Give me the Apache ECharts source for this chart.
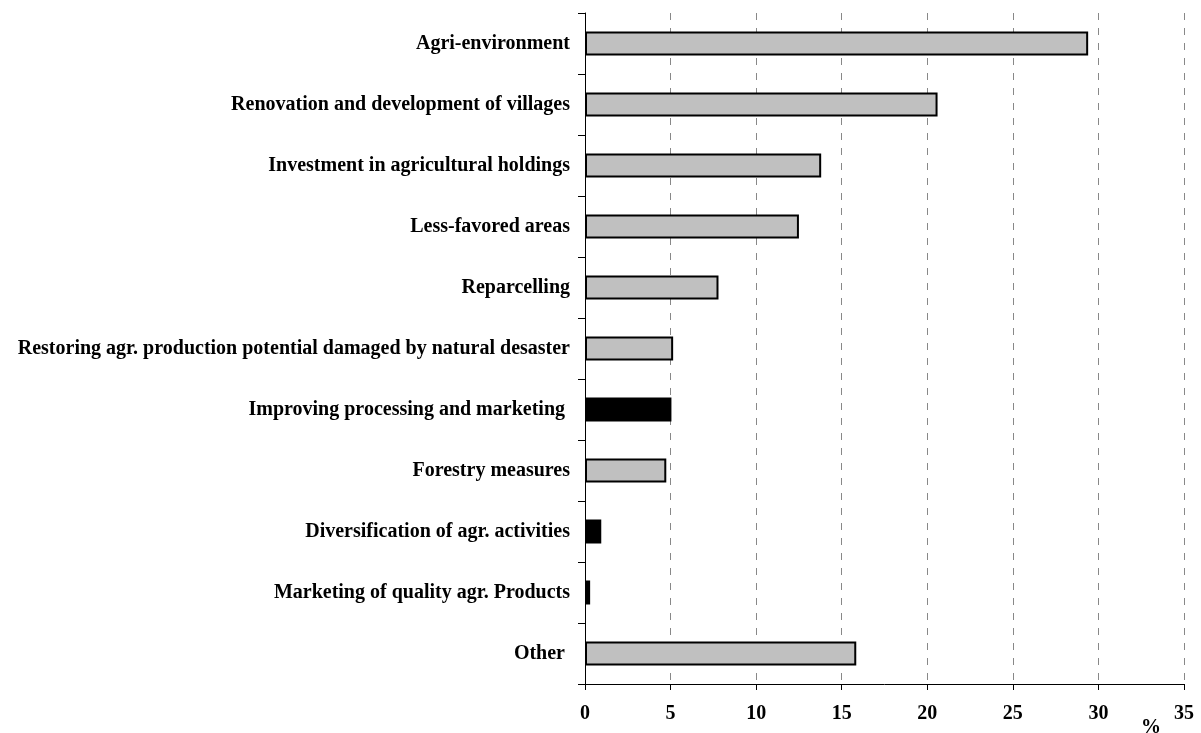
<!DOCTYPE html>
<html>
<head>
<meta charset="utf-8">
<script src="https://cdn.jsdelivr.net/npm/echarts@6/dist/echarts.min.js"></script>
<style>html,body{margin:0;padding:0;background:#fff;}#c{width:1201px;height:733px;}</style>
</head>
<body>
<div id="c"></div>
<script>
const categories = [
  "Agri-environment",
  "Renovation and development of villages",
  "Investment in agricultural holdings",
  "Less-favored areas",
  "Reparcelling",
  "Restoring agr. production potential damaged by natural desaster",
  "Improving processing and marketing ",
  "Forestry measures",
  "Diversification of agr. activities",
  "Marketing of quality agr. Products",
  "Other "
];
const values = [29.4, 20.6, 13.8, 12.5, 7.8, 5.15, 5.05, 4.75, 0.95, 0.3, 15.85];
const highlighted = [0, 0, 0, 0, 0, 0, 1, 0, 1, 1, 0];
const xTicks = [0, 5, 10, 15, 20, 25, 30, 35];
const unitLabel = "%";

const font = '"Liberation Serif", "Times New Roman", serif';
const chart = echarts.init(document.getElementById('c'));
chart.setOption({
  animation: false,
  backgroundColor: '#fff',
  grid: { left: 585, right: 17, top: 13, bottom: 49, containLabel: false },
  xAxis: {
    type: 'value', min: xTicks[0], max: xTicks[xTicks.length - 1], interval: 5,
    axisLine: { show: true, lineStyle: { color: '#000', width: 1 } },
    axisTick: { show: true, length: 6, lineStyle: { color: '#000' } },
    axisLabel: { margin: 20, color: '#000', fontFamily: font, fontWeight: 'bold', fontSize: 20 },
    splitLine: { show: true, lineStyle: { color: '#888', type: [7, 8], width: 1 } }
  },
  yAxis: {
    type: 'category', data: categories, inverse: true,
    axisLine: { show: true, lineStyle: { color: '#000', width: 1 } },
    axisTick: { show: true, length: 7, alignWithLabel: false, lineStyle: { color: '#000' } },
    axisLabel: { margin: 15, color: '#000', fontFamily: font, fontWeight: 'bold', fontSize: 20 },
    splitLine: { show: false }
  },
  series: [{
    type: 'bar',
    barWidth: 24,
    data: values.map((v, i) => ({
      value: v,
      itemStyle: { color: highlighted[i] ? '#000' : '#c0c0c0', borderColor: '#000', borderWidth: 2 }
    }))
  }],
  graphic: [{
    type: 'text', left: 1141, top: 718,
    style: { text: unitLabel, fill: '#000', font: 'bold 20px ' + font }
  }]
});
</script>
</body>
</html>
